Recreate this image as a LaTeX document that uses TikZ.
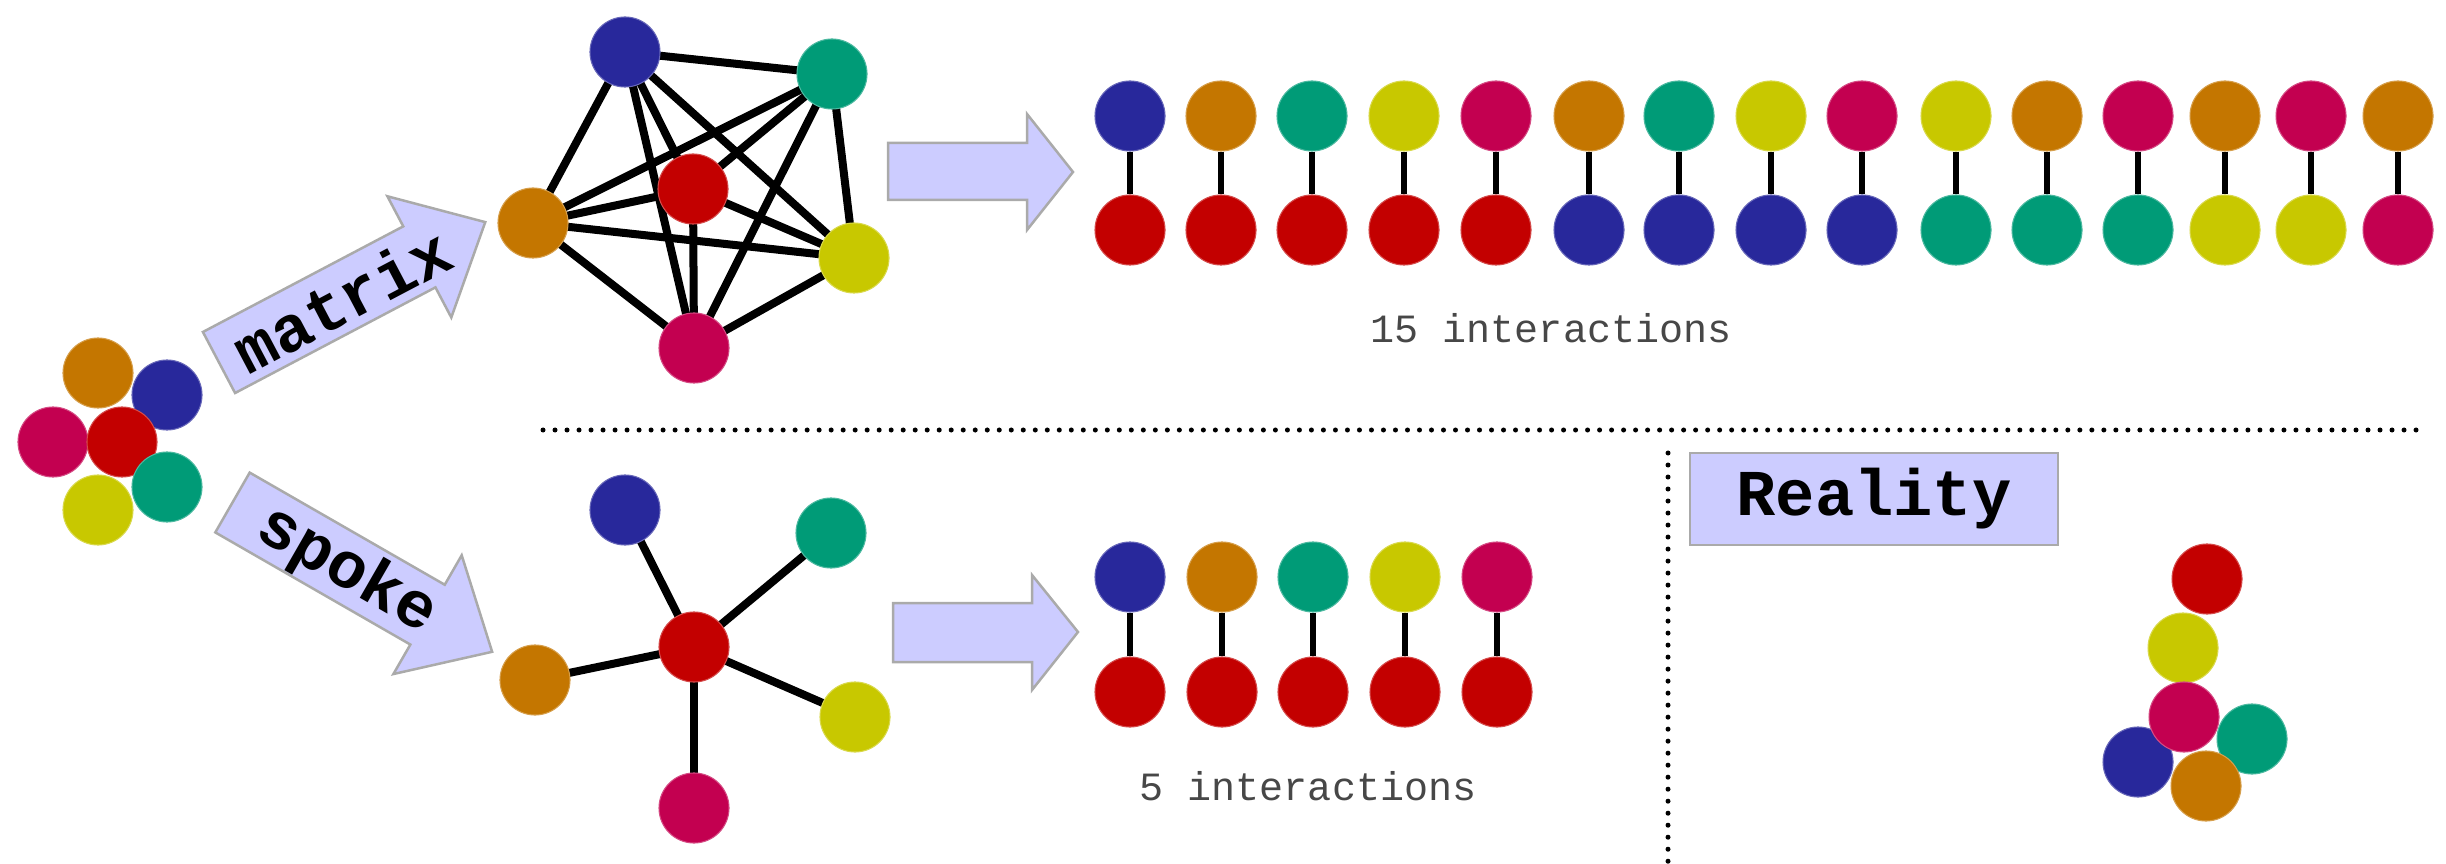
\documentclass[tikz,border=0pt]{standalone}
\usepackage{fontspec}
\setmonofont{Liberation Mono}
\usetikzlibrary{backgrounds}
\definecolor{cblue}{RGB}{40,40,155}
\definecolor{corange}{RGB}{196,118,0}
\definecolor{cgreen}{RGB}{0,155,119}
\definecolor{cyellow}{RGB}{200,200,0}
\definecolor{cmag}{RGB}{195,0,80}
\definecolor{cred}{RGB}{195,0,0}
\definecolor{afill}{RGB}{204,204,255}
\definecolor{aline}{RGB}{170,170,170}
\tikzset{
  ball/.style={circle,inner sep=0pt,minimum size=0.7cm,fill=#1,draw=#1!70!white,line width=0.3pt},
  bond/.style={line width=0.08cm,black},
  pairbond/.style={line width=0.065cm,black},
  fatarrow/.style={fill=afill,draw=aline,line width=0.025cm,line join=miter},
  arrowlabel/.style={font=\ttfamily\bfseries\fontsize{18.6pt}{20pt}\selectfont,inner sep=0pt},
  countlabel/.style={font=\ttfamily\fontsize{11.4pt}{13pt}\selectfont,text=black!72,inner sep=0pt},
  dotline/.style={line width=0.05cm,line cap=round,dash pattern=on 0pt off 0.12cm}
}
\begin{document}
\begin{tikzpicture}[x=0.01cm,y=-0.01cm]
\useasboundingbox (0,0) rectangle (2446,864);

% left cluster
\node[ball=corange] (c1) at (98,373) {};
\node[ball=cblue] (c2) at (167,395) {};
\node[ball=cmag] (c3) at (53,442) {};
\node[ball=cred] (c4) at (122,442) {};
\node[ball=cyellow] (c5) at (98,510) {};
\node[ball=cgreen] (c6) at (167,487) {};

% matrix arrow
\begin{scope}[shift={(219,362.5)},rotate=27.8]
  \draw[fatarrow] (0,-34.5) -- (226.5,-34.5) -- (226.5,-68.5) -- (301,0) -- (226.5,68.5) -- (226.5,34.5) -- (0,34.5) -- cycle;
\end{scope}
\node[arrowlabel,rotate=27.8] (lmatrix) at (342,300) {matrix};

% spoke arrow
\begin{scope}[shift={(232.5,502.5)},rotate=-29.9]
  \draw[fatarrow] (0,-34.5) -- (225,-34.5) -- (225,-68.5) -- (299.5,0) -- (225,68.5) -- (225,34.5) -- (0,34.5) -- cycle;
\end{scope}
\node[arrowlabel,rotate=-29.9] (lspoke) at (347,571) {spoke};

% matrix graph
\node[ball=cblue] (m1) at (625,52) {};
\node[ball=cgreen] (m2) at (832,74) {};
\node[ball=cred] (m3) at (693,189) {};
\node[ball=corange] (m4) at (533,223) {};
\node[ball=cyellow] (m5) at (854,258) {};
\node[ball=cmag] (m6) at (694,348) {};
\begin{pgfonlayer}{background}
\foreach \a/\b in {1/2,1/3,1/4,1/5,1/6,2/3,2/4,2/5,2/6,3/4,3/5,3/6,4/5,4/6,5/6}
  \draw[bond] (m\a.center) -- (m\b.center);
\end{pgfonlayer}

% spoke graph
\node[ball=cred] (s0) at (694,647) {};
\node[ball=cblue] (s1) at (625,510) {};
\node[ball=cgreen] (s2) at (831,533) {};
\node[ball=corange] (s3) at (535,680) {};
\node[ball=cyellow] (s4) at (855,717) {};
\node[ball=cmag] (s5) at (694,808) {};
\begin{pgfonlayer}{background}
\foreach \b in {1,...,5}
  \draw[bond] (s0.center) -- (s\b.center);
\end{pgfonlayer}

% right arrows
\draw[fatarrow] (888,143) -- (1027,143) -- (1027,114) -- (1073,172) -- (1027,230) -- (1027,200) -- (888,200) -- cycle;
\draw[fatarrow] (893,603) -- (1032,603) -- (1032,575) -- (1078,632) -- (1032,690) -- (1032,662) -- (893,662) -- cycle;

% top pairs
\foreach \x/\t/\b [count=\i] in {1130/cblue/cred,1221/corange/cred,1312/cgreen/cred,1404/cyellow/cred,1496/cmag/cred,
  1589/corange/cblue,1679/cgreen/cblue,1771/cyellow/cblue,1862/cmag/cblue,
  1956/cyellow/cgreen,2047/corange/cgreen,2138/cmag/cgreen,
  2225/corange/cyellow,2311/cmag/cyellow,2398/corange/cmag}{
  \node[ball=\t] (ta\i) at (\x,116) {};
  \node[ball=\b] (tb\i) at (\x,230) {};
  \draw[pairbond] (ta\i) -- (tb\i);
}
\node[countlabel,anchor=base] (n15) at (1551,343) {15 interactions};

% bottom pairs
\foreach \x/\t [count=\i] in {1130/cblue,1222/corange,1313/cgreen,1405/cyellow,1497/cmag}{
  \node[ball=\t] (ba\i) at (\x,577) {};
  \node[ball=cred] (bb\i) at (\x,692) {};
  \draw[pairbond] (ba\i) -- (bb\i);
}
\node[countlabel,anchor=base] (n5) at (1308,800) {5 interactions};

% dotted separators
\coordinate (hl) at (543,430);
\coordinate (hr) at (2416,430);
\coordinate (vt) at (1668,453);
\coordinate (vb) at (1668,864);
\draw[dotline] (hl) -- (hr);
\draw[dotline] (vt) -- (vb);

% reality
\node[fatarrow,arrowlabel,minimum width=3.68cm,minimum height=0.92cm] (real) at (1874,499) {Reality};
\node[ball=cgreen] (r4) at (2252,739) {};
\node[ball=cblue] (r5) at (2138,762) {};
\node[ball=cred] (r1) at (2207,579) {};
\node[ball=cyellow] (r2) at (2183,648) {};
\node[ball=cmag] (r3) at (2184,717) {};
\node[ball=corange] (r6) at (2206,786) {};
\end{tikzpicture}
\end{document}
